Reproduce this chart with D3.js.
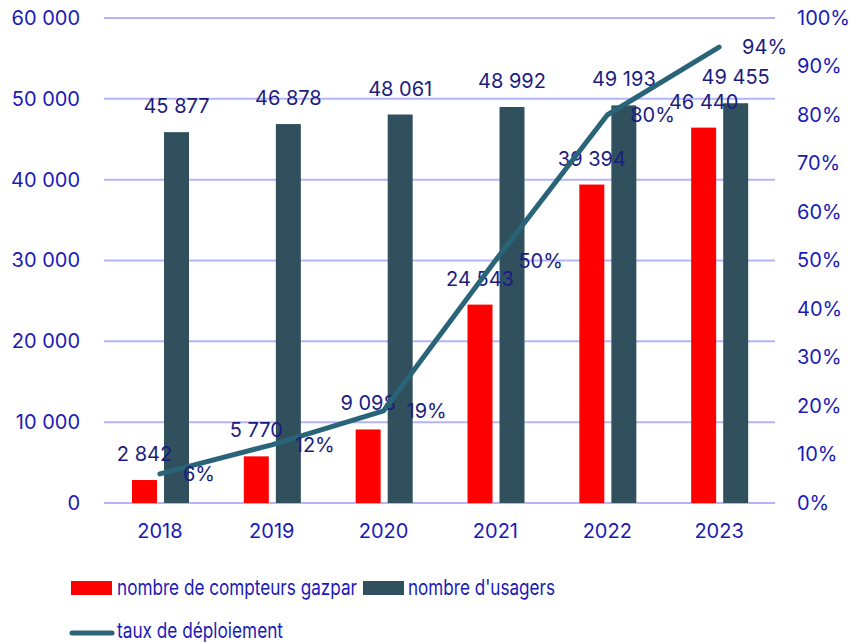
<!DOCTYPE html>
<style>
body { margin: 0; background: #fff; }
svg text { font-family: Inter, 'Liberation Sans', sans-serif; }
.axis .domain, .axis line { display: none; }
</style>
<svg width="861" height="644"></svg>
<script src="https://d3js.org/d3.v7.min.js"></script>
<script>
// data
var years = ["2018", "2019", "2020", "2021", "2022", "2023"];
var compteurs = [2842, 5770, 9098, 24543, 39394, 46440];
var usagers = [45877, 46878, 48061, 48992, 49193, 49455];
var taux = [0.06, 0.12, 0.19, 0.50, 0.80, 0.94];
var leftTicks = [0, 10000, 20000, 30000, 40000, 50000, 60000];
var rightTicks = [0, .1, .2, .3, .4, .5, .6, .7, .8, .9, 1];
var seriesNames = ["nombre de compteurs gazpar", "nombre d'usagers"];
var lineName = "taux de déploiement";

var svg = d3.select("svg");
var tickColor = "#1a1ab8", labelColor = "#1c1c80";
var colors = {"nombre de compteurs gazpar": "#ff0000", "nombre d'usagers": "#2f505c"};
var lineColor = "#2a6478";

var x = d3.scaleBand().domain(years).range([104, 775]);
var x1 = d3.scaleBand().domain(seriesNames).range([28, 85]).paddingInner(0.22);
var y = d3.scaleLinear().domain([0, 60000]).range([503, 18]);
var y2 = d3.scaleLinear().domain([0, 1]).range([503, 18]);

var fmt = function(v) { return d3.format(",")(v).replace(/,/g, " "); };

// gridlines
svg.append("g").selectAll("line").data(leftTicks).enter().append("line")
  .attr("x1", 104).attr("x2", 775)
  .attr("y1", function(d) { return y(d); }).attr("y2", function(d) { return y(d); })
  .attr("stroke", "#b4b4f8").attr("stroke-width", 2);

// left axis
var gl = svg.append("g").attr("class", "axis").attr("transform", "translate(88,0)")
  .call(d3.axisLeft(y).tickValues(leftTicks).tickSize(0).tickPadding(8).tickFormat(fmt));
gl.selectAll("text").attr("font-size", 20).attr("fill", tickColor).attr("font-family", "Inter, sans-serif");

// right axis
var gr = svg.append("g").attr("class", "axis").attr("transform", "translate(790,0)")
  .call(d3.axisRight(y2).tickValues(rightTicks).tickSize(0).tickPadding(7).tickFormat(d3.format(".0%")));
gr.selectAll("text").attr("font-size", 20).attr("fill", tickColor).attr("font-family", "Inter, sans-serif");

// x axis
var gx = svg.append("g").attr("class", "axis").attr("transform", "translate(0,510)")
  .call(d3.axisBottom(x).tickSize(0).tickPadding(14));
gx.selectAll("text").attr("font-size", 20).attr("fill", tickColor).attr("font-family", "Inter, sans-serif");

// bars
var rows = years.map(function(yr, i) {
  return {year: yr, values: [
    {key: seriesNames[0], value: compteurs[i]},
    {key: seriesNames[1], value: usagers[i]}]};
});

var groups = svg.append("g").selectAll("g").data(rows).enter().append("g")
  .attr("transform", function(d) { return "translate(" + x(d.year) + ",0)"; });

groups.selectAll("rect").data(function(d) { return d.values; }).enter().append("rect")
  .attr("x", function(d) { return x1(d.key); })
  .attr("width", x1.bandwidth())
  .attr("y", function(d) { return y(d.value); })
  .attr("height", function(d) { return y(0) - y(d.value); })
  .attr("fill", function(d) { return colors[d.key]; });

// line
var pts = years.map(function(yr, i) { return [x(yr) + x.bandwidth() / 2, y2(taux[i])]; });
svg.append("path")
  .attr("d", d3.line()(pts))
  .attr("fill", "none").attr("stroke", lineColor).attr("stroke-width", 5)
  .attr("stroke-linecap", "round").attr("stroke-linejoin", "round");

// bar labels
groups.selectAll("text.val").data(function(d) { return d.values; }).enter().append("text")
  .attr("class", "val")
  .attr("x", function(d) { return x1(d.key) + x1.bandwidth() / 2; })
  .attr("y", function(d) { return y(d.value) - 19; })
  .attr("text-anchor", "middle")
  .attr("font-size", 20).attr("fill", labelColor)
  .text(function(d) { return fmt(d.value); });

// line labels
svg.append("g").selectAll("text").data(pts).enter().append("text")
  .attr("x", function(d) { return d[0] + 23; })
  .attr("y", function(d) { return d[1]; })
  .attr("dy", "0.35em")
  .attr("font-size", 20).attr("fill", labelColor)
  .text(function(d, i) { return Math.round(taux[i] * 100) + "%"; });

// legend (narrow font squeezed to fit)
var lg = svg.append("g");
function legendText(xp, yp, w, t) {
  lg.append("text").attr("x", xp).attr("y", yp).attr("font-size", 21).attr("fill", tickColor)
    .attr("textLength", w).attr("lengthAdjust", "spacingAndGlyphs").text(t);
}
lg.append("rect").attr("x", 71).attr("y", 581).attr("width", 41).attr("height", 14).attr("fill", colors[seriesNames[0]]);
legendText(117, 595, 240, seriesNames[0]);
lg.append("rect").attr("x", 363).attr("y", 581).attr("width", 41).attr("height", 14).attr("fill", colors[seriesNames[1]]);
legendText(408, 595, 147, seriesNames[1]);
lg.append("line").attr("x1", 72).attr("x2", 112).attr("y1", 633).attr("y2", 633)
  .attr("stroke", lineColor).attr("stroke-width", 5).attr("stroke-linecap", "round");
legendText(117, 638, 166, lineName);
</script>
